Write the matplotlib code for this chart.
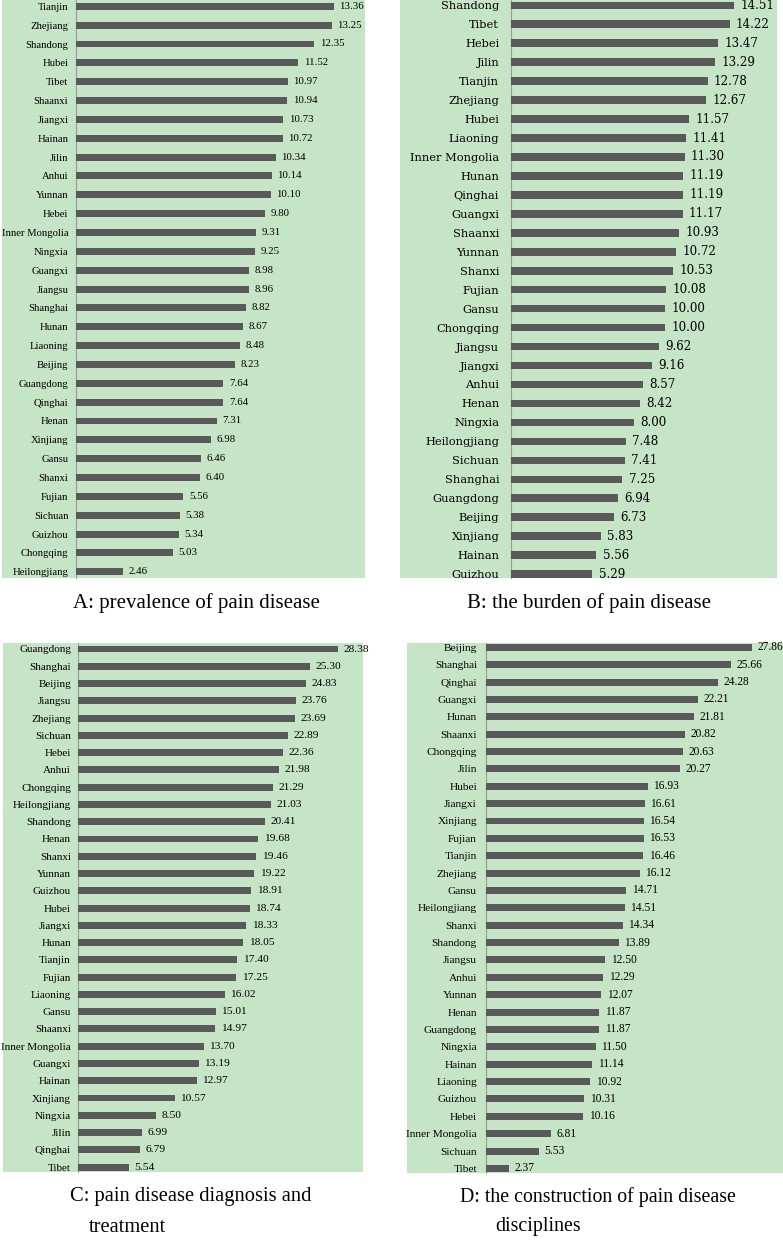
import matplotlib
matplotlib.use("Agg")
import matplotlib.pyplot as plt
from matplotlib.patches import Rectangle

# ---------------- data ----------------
a_labels = ["Tianjin", "Zhejiang", "Shandong", "Hubei", "Tibet", "Shaanxi", "Jiangxi", "Hainan",
            "Jilin", "Anhui", "Yunnan", "Hebei", "Inner Mongolia", "Ningxia", "Guangxi", "Jiangsu",
            "Shanghai", "Hunan", "Liaoning", "Beijing", "Guangdong", "Qinghai", "Henan", "Xinjiang",
            "Gansu", "Shanxi", "Fujian", "Sichuan", "Guizhou", "Chongqing", "Heilongjiang"]
a_values = [13.36, 13.25, 12.35, 11.52, 10.97, 10.94, 10.73, 10.72, 10.34, 10.14, 10.10, 9.80,
            9.31, 9.25, 8.98, 8.96, 8.82, 8.67, 8.48, 8.23, 7.64, 7.64, 7.31, 6.98, 6.46, 6.40,
            5.56, 5.38, 5.34, 5.03, 2.46]

b_labels = ["Shandong", "Tibet", "Hebei", "Jilin", "Tianjin", "Zhejiang", "Hubei", "Liaoning",
            "Inner Mongolia", "Hunan", "Qinghai", "Guangxi", "Shaanxi", "Yunnan", "Shanxi", "Fujian",
            "Gansu", "Chongqing", "Jiangsu", "Jiangxi", "Anhui", "Henan", "Ningxia", "Heilongjiang",
            "Sichuan", "Shanghai", "Guangdong", "Beijing", "Xinjiang", "Hainan", "Guizhou"]
b_values = [14.51, 14.22, 13.47, 13.29, 12.78, 12.67, 11.57, 11.41, 11.30, 11.19, 11.19, 11.17,
            10.93, 10.72, 10.53, 10.08, 10.00, 10.00, 9.62, 9.16, 8.57, 8.42, 8.00, 7.48, 7.41,
            7.25, 6.94, 6.73, 5.83, 5.56, 5.29]

c_labels = ["Guangdong", "Shanghai", "Beijing", "Jiangsu", "Zhejiang", "Sichuan", "Hebei", "Anhui",
            "Chongqing", "Heilongjiang", "Shandong", "Henan", "Shanxi", "Yunnan", "Guizhou", "Hubei",
            "Jiangxi", "Hunan", "Tianjin", "Fujian", "Liaoning", "Gansu", "Shaanxi", "Inner Mongolia",
            "Guangxi", "Hainan", "Xinjiang", "Ningxia", "Jilin", "Qinghai", "Tibet"]
c_values = [28.38, 25.30, 24.83, 23.76, 23.69, 22.89, 22.36, 21.98, 21.29, 21.03, 20.41, 19.68,
            19.46, 19.22, 18.91, 18.74, 18.33, 18.05, 17.40, 17.25, 16.02, 15.01, 14.97, 13.70,
            13.19, 12.97, 10.57, 8.50, 6.99, 6.79, 5.54]

d_labels = ["Beijing", "Shanghai", "Qinghai", "Guangxi", "Hunan", "Shaanxi", "Chongqing", "Jilin",
            "Hubei", "Jiangxi", "Xinjiang", "Fujian", "Tianjin", "Zhejiang", "Gansu", "Heilongjiang",
            "Shanxi", "Shandong", "Jiangsu", "Anhui", "Yunnan", "Henan", "Guangdong", "Ningxia",
            "Hainan", "Liaoning", "Guizhou", "Hebei", "Inner Mongolia", "Sichuan", "Tibet"]
d_values = [27.86, 25.66, 24.28, 22.21, 21.81, 20.82, 20.63, 20.27, 16.93, 16.61, 16.54, 16.53,
            16.46, 16.12, 14.71, 14.51, 14.34, 13.89, 12.50, 12.29, 12.07, 11.87, 11.87, 11.50,
            11.14, 10.92, 10.31, 10.16, 6.81, 5.53, 2.37]

captions = ["A: prevalence of pain disease",
            "B: the burden of pain disease",
            "C: pain disease diagnosis and",
            "treatment",
            "D: the construction of pain disease",
            "disciplines"]

# ---------------- style ----------------
W, H = 783, 1240
GREEN = "#C6E4C6"
BAR = "#595959"
AXIS = "#9A9A9A"

fig = plt.figure(figsize=(W / 100, H / 100), dpi=100)
fig.patch.set_facecolor("white")


def px_rect(x0, y0, x1, y1):
    return [x0 / W, 1 - y1 / H, (x1 - x0) / W, (y1 - y0) / H]


def panel(labels, values, green_box, ax_box, xmax, p0, step, bar_h,
          lab_font, lab_size, val_font, val_size, lab_pad, val_off):
    gx0, gy0, gx1, gy1 = green_box
    fig.patches.append(Rectangle((gx0 / W, 1 - gy1 / H), (gx1 - gx0) / W, (gy1 - gy0) / H,
                                 transform=fig.transFigure, facecolor=GREEN,
                                 edgecolor="none", zorder=-5))
    ax0, ay0, ax1, ay1 = ax_box
    ax = fig.add_axes(px_rect(ax0, ay0, ax1, ay1))
    ax.set_facecolor(GREEN)
    ypos = list(range(len(values)))
    ax.barh(ypos, values, height=bar_h, color=BAR, zorder=3)
    ax.set_xlim(0, xmax)
    ax.set_ylim((ay1 - p0) / step, (ay0 - p0) / step)
    ax.set_yticks(ypos)
    ax.set_yticklabels(labels, fontfamily=lab_font, fontsize=lab_size, color="black")
    ax.tick_params(axis="y", length=0, pad=lab_pad)
    ax.set_xticks([])
    for s in ["top", "right", "bottom"]:
        ax.spines[s].set_visible(False)
    ax.spines["left"].set_color(AXIS)
    ax.spines["left"].set_linewidth(0.8)
    for y, v in zip(ypos, values):
        ax.annotate(f"{v:.2f}", xy=(v, y), xytext=(val_off, 0), textcoords="offset points",
                    va="center", ha="left", fontfamily=val_font, fontsize=val_size,
                    color="black", annotation_clip=False, zorder=4)
    return ax


SERIF = "Liberation Serif"

panel(a_labels, a_values, (2, 0, 365, 578), (76, 0, 365, 578), 14.97, 6.3, 18.85, 0.37,
      SERIF, 7.7, SERIF, 7.8, 5.5, 4)
panel(b_labels, b_values, (400, 0, 777, 578), (511, 0, 777, 578), 17.3, 5.3, 18.96, 0.4,
      "DejaVu Serif", 8.2, "DejaVu Serif", 8.6, 8.5, 4.5)
panel(c_labels, c_values, (3, 643, 363, 1172), (78, 643, 363, 1172), 31.1, 649, 17.27, 0.4,
      SERIF, 8.0, SERIF, 8.2, 5, 4)
panel(d_labels, d_values, (407, 643, 783, 1173), (486, 643, 783, 1173), 31.1, 647.3, 17.37, 0.4,
      SERIF, 8.2, SERIF, 8.3, 6.5, 4)

cap_kw = dict(fontfamily=SERIF, color="black", va="center")
fig.text(196 / W, 1 - 603 / H, captions[0], ha="center", fontsize=15, **cap_kw)
fig.text(589 / W, 1 - 603 / H, captions[1], ha="center", fontsize=15, **cap_kw)
fig.text(70 / W, 1 - 1197 / H, captions[2], ha="left", fontsize=14.8, **cap_kw)
fig.text(89 / W, 1 - 1227 / H, captions[3], ha="left", fontsize=14.8, **cap_kw)
fig.text(460 / W, 1 - 1197 / H, captions[4], ha="left", fontsize=14.3, **cap_kw)
fig.text(495 / W, 1 - 1227 / H, captions[5], ha="left", fontsize=14.3, **cap_kw)

fig.savefig("out.png", dpi=100, facecolor="white")
